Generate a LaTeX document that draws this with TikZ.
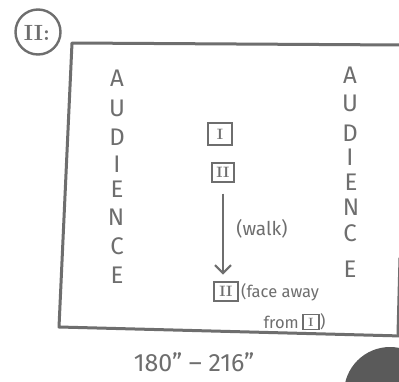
\documentclass[tikz,border=0pt]{standalone}
\usepackage{fontspec}
\setsansfont{Fira Sans}
\usetikzlibrary{arrows.meta}
\definecolor{ink}{HTML}{6E6E6E}
\definecolor{blob}{HTML}{5A5A5A}
\tikzset{
  edge/.style={draw=ink, line width=3pt, line cap=round, line join=round},
  letter/.style={text=ink, font=\sffamily\fontsize{24}{24}\selectfont, inner sep=0pt},
  note/.style={text=ink, font=\sffamily\fontsize{19}{19}\selectfont, inner sep=0pt},
  small/.style={text=ink, font=\sffamily\fontsize{16.5}{16.5}\selectfont, inner sep=0pt},
  actor/.style={draw=ink, line width=2pt, text=ink, font=\bfseries\fontsize{15}{15}\selectfont, inner sep=0pt, minimum width=22pt, minimum height=19pt},
  tinyactor/.style={draw=ink, line width=1.8pt, text=ink, font=\bfseries\fontsize{12}{12}\selectfont, inner sep=0pt, minimum width=16pt, minimum height=15pt},
  walkarrow/.style={draw=ink, line width=2pt, -{Straight Barb[length=8pt,width=16pt,line width=2pt]}}
}
\begin{document}
\begin{tikzpicture}[x=1pt,y=-1pt]
\useasboundingbox (0,0) rectangle (399,381);
\clip (0,0) rectangle (399,381);
\fill[white] (0,0) rectangle (399,381);

% scene label
\node[draw=ink, line width=2.4pt, circle, minimum size=45pt, inner sep=0pt] (lbl) at (38,32) {};
\node[text=ink, font=\bfseries\fontsize{22}{22}\selectfont, inner sep=0pt] (lbltxt) at (37,33) {II:};

% stage outline
\coordinate (tl) at (72,43);
\coordinate (tr) at (402,45);
\coordinate (bl) at (59,327);
\coordinate (br) at (402,336);
\coordinate (rt) at (400,258);
\coordinate (rb) at (398,334);
\draw[edge] (tr) -- (tl) -- (bl) -- (br);
\draw[edge] (rt) -- (rb);

% audience, left
\node[letter] (la1) at (117,78) {A};
\node[letter] (la2) at (117,108) {U};
\node[letter] (la3) at (117,137) {D};
\node[letter] (la4) at (117,164) {I};
\node[letter] (la5) at (117,189) {E};
\node[letter] (la6) at (116,217) {N};
\node[letter] (la7) at (117,246) {C};
\node[letter] (la8) at (117,275) {E};

% audience, right
\node[letter] (ra1) at (350,75) {A};
\node[letter] (ra2) at (350,103) {U};
\node[letter] (ra3) at (350,133) {D};
\node[letter] (ra4) at (350,157) {I};
\node[letter] (ra5) at (351,182) {E};
\node[letter] (ra6) at (351,207) {N};
\node[letter] (ra7) at (350,233) {C};
\node[letter] (ra8) at (350,269) {E};

% actors
\node[actor, minimum width=24pt, minimum height=22pt] (a1) at (220,134) {I};
\node[actor] (a2) at (223,172) {II};
\node[actor, minimum width=24pt] (a3) at (226,291) {II};

\path (a2.south) ++(0,11) coordinate (wstart);
\path (a3.north -| wstart) ++(0,-6) coordinate (wend);
\draw[walkarrow] (wstart) -- (wend);
\node[note] (walk) at (262,229) {(walk)};

\node[small, anchor=west] (face) at (241,292) {(face away};
\node[small, anchor=east] (from) at (299,322) {from};
\node[tinyactor] (a4) at (311,322) {I};
\node[small, anchor=west] (close) at (320,322) {)};

% measurement
\node[text=ink, font=\sffamily\fontsize{25}{25}\selectfont, inner sep=0pt] (dim) at (194,362) {180" -- 216"};

% blob at corner
\fill[blob] (390,393) circle (46);
\end{tikzpicture}
\end{document}
